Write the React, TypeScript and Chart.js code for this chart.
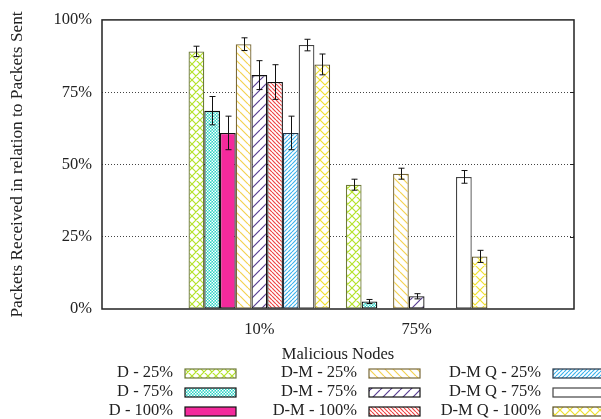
import React, { useEffect, useRef } from "react";
import { Chart, registerables } from "chart.js";

Chart.register(...registerables);

const categories = ["", "10%", "75%", ""];
const seriesLabels = [
  "D - 25%", "D - 75%", "D - 100%",
  "D-M - 25%", "D-M - 75%", "D-M - 100%",
  "D-M Q - 25%", "D-M Q - 75%", "D-M Q - 100%",
];
const d25 = [null, 89.1, 43.0, null];
const d75 = [null, 68.6, 2.6, null];
const d100 = [null, 60.9, 0, null];
const dm25 = [null, 91.6, 46.8, null];
const dm75 = [null, 80.9, 4.4, null];
const dm100 = [null, 78.5, 0, null];
const dmq25 = [null, 60.9, 0, null];
const dmq75 = [null, 91.3, 45.7, null];
const dmq100 = [null, 84.6, 18.2, null];

const d25Err = [null, 1.8, 1.9, null];
const d75Err = [null, 4.9, 0.7, null];
const d100Err = [null, 5.8, 0, null];
const dm25Err = [null, 2.2, 1.9, null];
const dm75Err = [null, 5.0, 0.9, null];
const dm100Err = [null, 6.0, 0, null];
const dmq25Err = [null, 5.8, 0, null];
const dmq75Err = [null, 2.0, 2.2, null];
const dmq100Err = [null, 3.6, 2.1, null];

const yTicks = [0, 25, 50, 75, 100];

const FONT = "'Liberation Serif', 'Times New Roman', serif";

type PatternSpec = { kind: string; color: string; size: number; lw?: number };

function makePattern(spec: PatternSpec): CanvasPattern | string {
  if (spec.kind === "solid") return spec.color;
  if (spec.kind === "none") return "#ffffff";
  const s = spec.size;
  const c = document.createElement("canvas");
  c.width = s;
  c.height = s;
  const g = c.getContext("2d")!;
  if (spec.kind === "dots") {
    g.fillStyle = spec.color;
    g.fillRect(0, 0, s, s);
    g.fillStyle = "#ffffff";
    g.fillRect(0, 0, 1.5, 1.5);
    g.fillRect(s / 2, s / 2, 1.5, 1.5);
  } else {
    g.fillStyle = "#ffffff";
    g.fillRect(0, 0, s, s);
    g.strokeStyle = spec.color;
    g.lineWidth = spec.lw ?? 1.2;
    g.beginPath();
    for (let k = -1; k <= 1; k++) {
      if (spec.kind === "back" || spec.kind === "cross") {
        g.moveTo(k * s, 0);
        g.lineTo(k * s + s, s);
      }
      if (spec.kind === "fwd" || spec.kind === "cross") {
        g.moveTo(k * s, s);
        g.lineTo(k * s + s, 0);
      }
    }
    g.stroke();
  }
  return g.createPattern(c, "repeat")!;
}

const patternSpecs: PatternSpec[] = [
  { kind: "cross", color: "#b4e22a", size: 8 },
  { kind: "dots", color: "#2cd2c4", size: 3 },
  { kind: "solid", color: "#f42a9c", size: 0 },
  { kind: "back", color: "#f4d250", size: 8 },
  { kind: "fwd", color: "#5a3f94", size: 10 },
  { kind: "back", color: "#ee4444", size: 4 },
  { kind: "fwd", color: "#3cb2ec", size: 4 },
  { kind: "none", color: "#ffffff", size: 0 },
  { kind: "cross", color: "#f0e030", size: 10 },
];
const borderColors = [
  "#6e7a3a", "#111111", "#111111",
  "#7a6a3a", "#111111", "#111111",
  "#223344", "#444444", "#5a5020",
];

export default function App() {
  const ref = useRef<HTMLCanvasElement | null>(null);
  useEffect(() => {
    document.body.style.margin = "0";
    const values = [d25, d75, d100, dm25, dm75, dm100, dmq25, dmq75, dmq100];
    const errors = [d25Err, d75Err, d100Err, dm25Err, dm75Err, dm100Err, dmq25Err, dmq75Err, dmq100Err];
    const fills = patternSpecs.map(makePattern);

    const errorBars = {
      id: "errorBars",
      afterDatasetsDraw(chart: any) {
        const ctx = chart.ctx;
        const y = chart.scales.y;
        ctx.save();
        ctx.strokeStyle = "#111";
        ctx.lineWidth = 1;
        values.forEach((vals, i) => {
          const meta = chart.getDatasetMeta(i);
          vals.forEach((v, j) => {
            const e = errors[i][j];
            if (v == null || !e) return;
            const el = meta.data[j];
            const x = Math.round(el.x) + 0.5;
            const y1 = y.getPixelForValue(v + e);
            const y2 = y.getPixelForValue(v - e);
            ctx.beginPath();
            ctx.moveTo(x, y1);
            ctx.lineTo(x, y2);
            ctx.moveTo(x - 3, y1);
            ctx.lineTo(x + 3, y1);
            ctx.moveTo(x - 3, y2);
            ctx.lineTo(x + 3, y2);
            ctx.stroke();
          });
        });
        ctx.restore();
      },
    };

    const frameAndLegend = {
      id: "frameAndLegend",
      afterDraw(chart: any) {
        const ctx = chart.ctx;
        const a = chart.chartArea;
        const yS = chart.scales.y;
        ctx.save();
        ctx.strokeStyle = "#222";
        ctx.lineWidth = 1.5;
        ctx.strokeRect(a.left, a.top, a.right - a.left, a.bottom - a.top);
        ctx.lineWidth = 1;
        [25, 50, 75].forEach((t) => {
          const py = Math.round(yS.getPixelForValue(t)) + 0.5;
          ctx.beginPath();
          ctx.moveTo(a.right - 4, py);
          ctx.lineTo(a.right, py);
          ctx.stroke();
        });
        // legend
        ctx.font = `16.5px ${FONT}`;
        ctx.textAlign = "right";
        ctx.textBaseline = "middle";
        const colStep = 184;
        const rowStep = 19;
        const textRight0 = a.left + 71;
        const rowTop = a.bottom + 64;
        seriesLabels.forEach((lab, i) => {
          const col = Math.floor(i / 3);
          const row = i % 3;
          const tx = textRight0 + col * colStep;
          const ty = rowTop + row * rowStep;
          ctx.fillStyle = "#222";
          ctx.fillText(lab, tx, ty);
          const bx = tx + 12;
          const by = ty - 4;
          ctx.fillStyle = fills[i] as any;
          ctx.fillRect(bx, by, 51, 9);
          ctx.strokeStyle = borderColors[i];
          ctx.lineWidth = 1.2;
          ctx.strokeRect(bx, by, 51, 9);
        });
        ctx.restore();
      },
    };

    const chart = new Chart(ref.current!, {
      type: "bar",
      data: {
        labels: categories,
        datasets: values.map((vals, i) => ({
          label: seriesLabels[i],
          data: vals,
          backgroundColor: fills[i] as any,
          borderColor: borderColors[i],
          borderWidth: 1.3,
          borderSkipped: false,
          barPercentage: 1,
          categoryPercentage: 0.9,
        })),
      },
      options: {
        animation: false,
        responsive: true,
        maintainAspectRatio: false,
        layout: { padding: { left: 0, right: 27, top: 19, bottom: 54 } },
        plugins: { legend: { display: false }, tooltip: { enabled: false } },
        scales: {
          x: {
            offset: false,
            grid: { display: false },
            border: { display: false },
            ticks: {
              color: "#222",
              font: { family: FONT, size: 16.5 },
              padding: 3,
              maxRotation: 0,
              autoSkip: false,
            },
            title: {
              display: true,
              text: "Malicious Nodes",
              color: "#222",
              font: { family: FONT, size: 16.5 },
              padding: { top: 0, bottom: 0.5 },
            },
            afterFit(s: any) {
              s.height = 56;
            },
          },
          y: {
            min: 0,
            max: 100,
            afterBuildTicks(s: any) {
              s.ticks = yTicks.map((v) => ({ value: v }));
            },
            grid: {
              drawTicks: false,
              color: (c: any) =>
                c.tick && (c.tick.value === 0 || c.tick.value === 100) ? "rgba(0,0,0,0)" : "#444",
              lineWidth: 1,
            },
            border: { display: false, dash: [1, 2] },
            ticks: {
              color: "#222",
              font: { family: FONT, size: 16.5 },
              padding: 10,
              callback: (v: any) => `${v}%`,
            },
            title: {
              display: true,
              text: "Packets Received in relation to Packets Sent",
              color: "#222",
              font: { family: FONT, size: 17.3 },
              padding: { top: 7.5, bottom: 0 },
            },
            afterFit(s: any) {
              s.width = 102;
            },
          },
        },
      },
      plugins: [errorBars, frameAndLegend],
    });
    return () => chart.destroy();
  }, []);

  return (
    <div style={{ width: 601, height: 419, position: "relative" }}>
      <canvas ref={ref} />
    </div>
  );
}
